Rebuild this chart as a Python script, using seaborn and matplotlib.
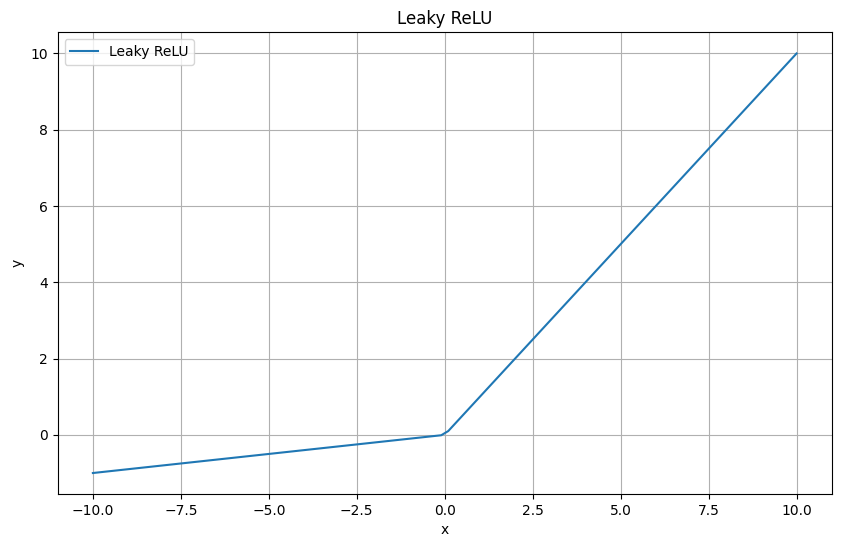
import matplotlib
matplotlib.use("Agg")
import matplotlib.pyplot as plt
import seaborn as sns
import pandas as pd

# points (line is straight between them)
x_vals = [-10.0, -0.1, 0.1, 10.0]
y_vals = [-1.0, -0.01, 0.1, 10.0]

df = pd.DataFrame({"x": x_vals, "y": y_vals})

fig = plt.figure(figsize=(8.41, 5.47), dpi=100)
ax = fig.add_axes([0.0686, 0.0969, 0.9204, 0.8437])
sns.lineplot(data=df, x="x", y="y", ax=ax, label="Leaky ReLU",
             color="#1f77b4", linewidth=1.5, sort=False)
ax.set_title("Leaky ReLU")
ax.set_xlabel("x")
ax.set_ylabel("y")
ax.legend(loc="upper left")
ax.grid(True)
fig.savefig("out.png", dpi=100)
